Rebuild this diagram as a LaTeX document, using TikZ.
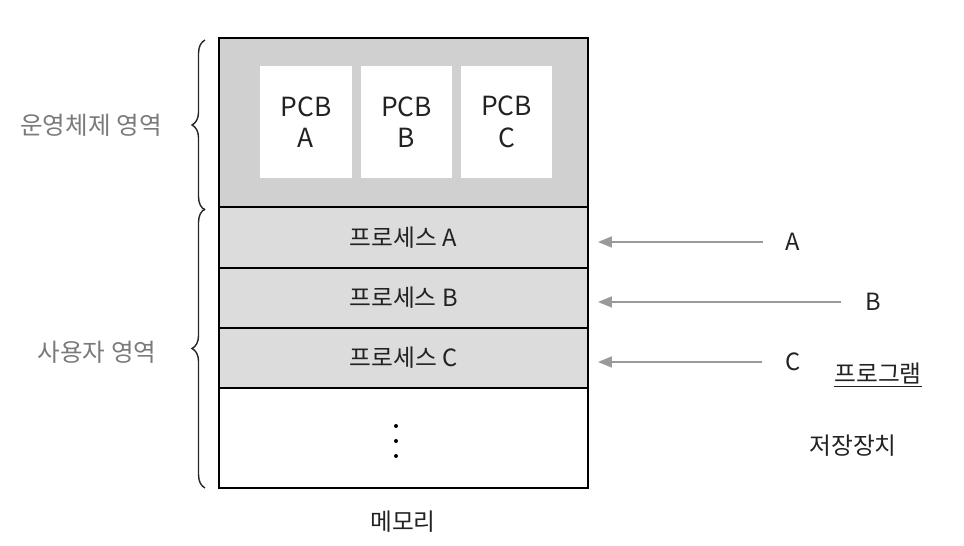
\documentclass[tikz,border=0pt]{standalone}
\usepackage{fontspec}
\setmainfont{Noto Sans CJK KR}
\usepackage{xcolor}
\usetikzlibrary{arrows.meta, positioning, decorations.pathreplacing}
\definecolor{memgray}{HTML}{DCDCDC}
\definecolor{osgray}{HTML}{D0D0D0}
\definecolor{lblgray}{HTML}{7A7A7A}
\definecolor{arrgray}{HTML}{9A9A9A}
\definecolor{txtdark}{HTML}{222222}

\begin{document}
\begin{tikzpicture}[
  x=0.02cm, y=-0.02cm,
  every node/.style={font=\fontsize{13.5}{16}\selectfont, text=txtdark},
  regnode/.style={rectangle, draw=black, line width=0.9pt, minimum width=7.38cm, inner sep=0pt, outer sep=0pt},
  pcbnode/.style={rectangle, fill=white, minimum width=1.84cm, minimum height=2.24cm, align=center, font=\fontsize{15}{18}\selectfont},
  sidelbl/.style={text=lblgray, font=\fontsize{14}{16}\selectfont},
  loadarrow/.style={-{Triangle[length=0.28cm, width=0.22cm]}, arrgray, line width=0.9pt},
  bracestyle/.style={decorate, decoration={brace, amplitude=0.26cm}, line width=0.8pt, black!85},
]

% memory regions
\node[regnode, fill=osgray, minimum height=3.38cm] (osreg) at (403.5, 122.5) {};
\node[regnode, fill=memgray, minimum height=1.22cm] (procA) at (403.5, 237.5) {프로세스 A};
\node[regnode, fill=memgray, minimum height=1.2cm] (procB) at (403.5, 298) {프로세스 B};
\node[regnode, fill=memgray, minimum height=1.2cm] (procC) at (403.5, 358) {프로세스 C};
\node[regnode, fill=white, minimum height=2cm] (freereg) at (403.5, 438) {};

% PCBs inside the OS region
\node[pcbnode] (pcbA) at (306, 122) {PCB\\A};
\node[pcbnode] (pcbB) at (406.5, 122) {PCB\\B};
\node[pcbnode] (pcbC) at (506.5, 122) {PCB\\C};

% dots in the free area
\foreach \yy in {426, 441, 456}
  \fill[black] (396, \yy) circle (2);

\node (memlbl) at (403, 522) {메모리};

% braces and region labels
\draw[bracestyle] ([xshift=-0.28cm, yshift=-0.06cm]osreg.south west) -- ([xshift=-0.28cm, yshift=-0.04cm]osreg.north west);
\draw[bracestyle] ([xshift=-0.28cm]freereg.south west) -- ([xshift=-0.28cm, yshift=-0.04cm]procA.north west);
\node[sidelbl] (oslbl) at (91, 125) {운영체제 영역};
\node[sidelbl] (userlbl) at (97, 352) {사용자 영역};

% programs on storage
\node (progA) at (793, 242) {A};
\node (progB) at (873, 302) {B};
\node (progC) at (793, 362) {C};
\node (proglbl) at (878, 375) {\underline{프로그램}};
\node (storelbl) at (853, 446) {저장장치};

\draw[loadarrow, shorten <=0.34cm, shorten >=0.2cm] (progA) -- (procA.east |- progA) ;
\draw[loadarrow, shorten <=0.36cm, shorten >=0.2cm] (progB) -- (procB.east |- progB);
\draw[loadarrow, shorten <=0.34cm, shorten >=0.2cm] (progC) -- (procC.east |- progC);

\useasboundingbox (0,0) rectangle (964,546);
\end{tikzpicture}
\end{document}
